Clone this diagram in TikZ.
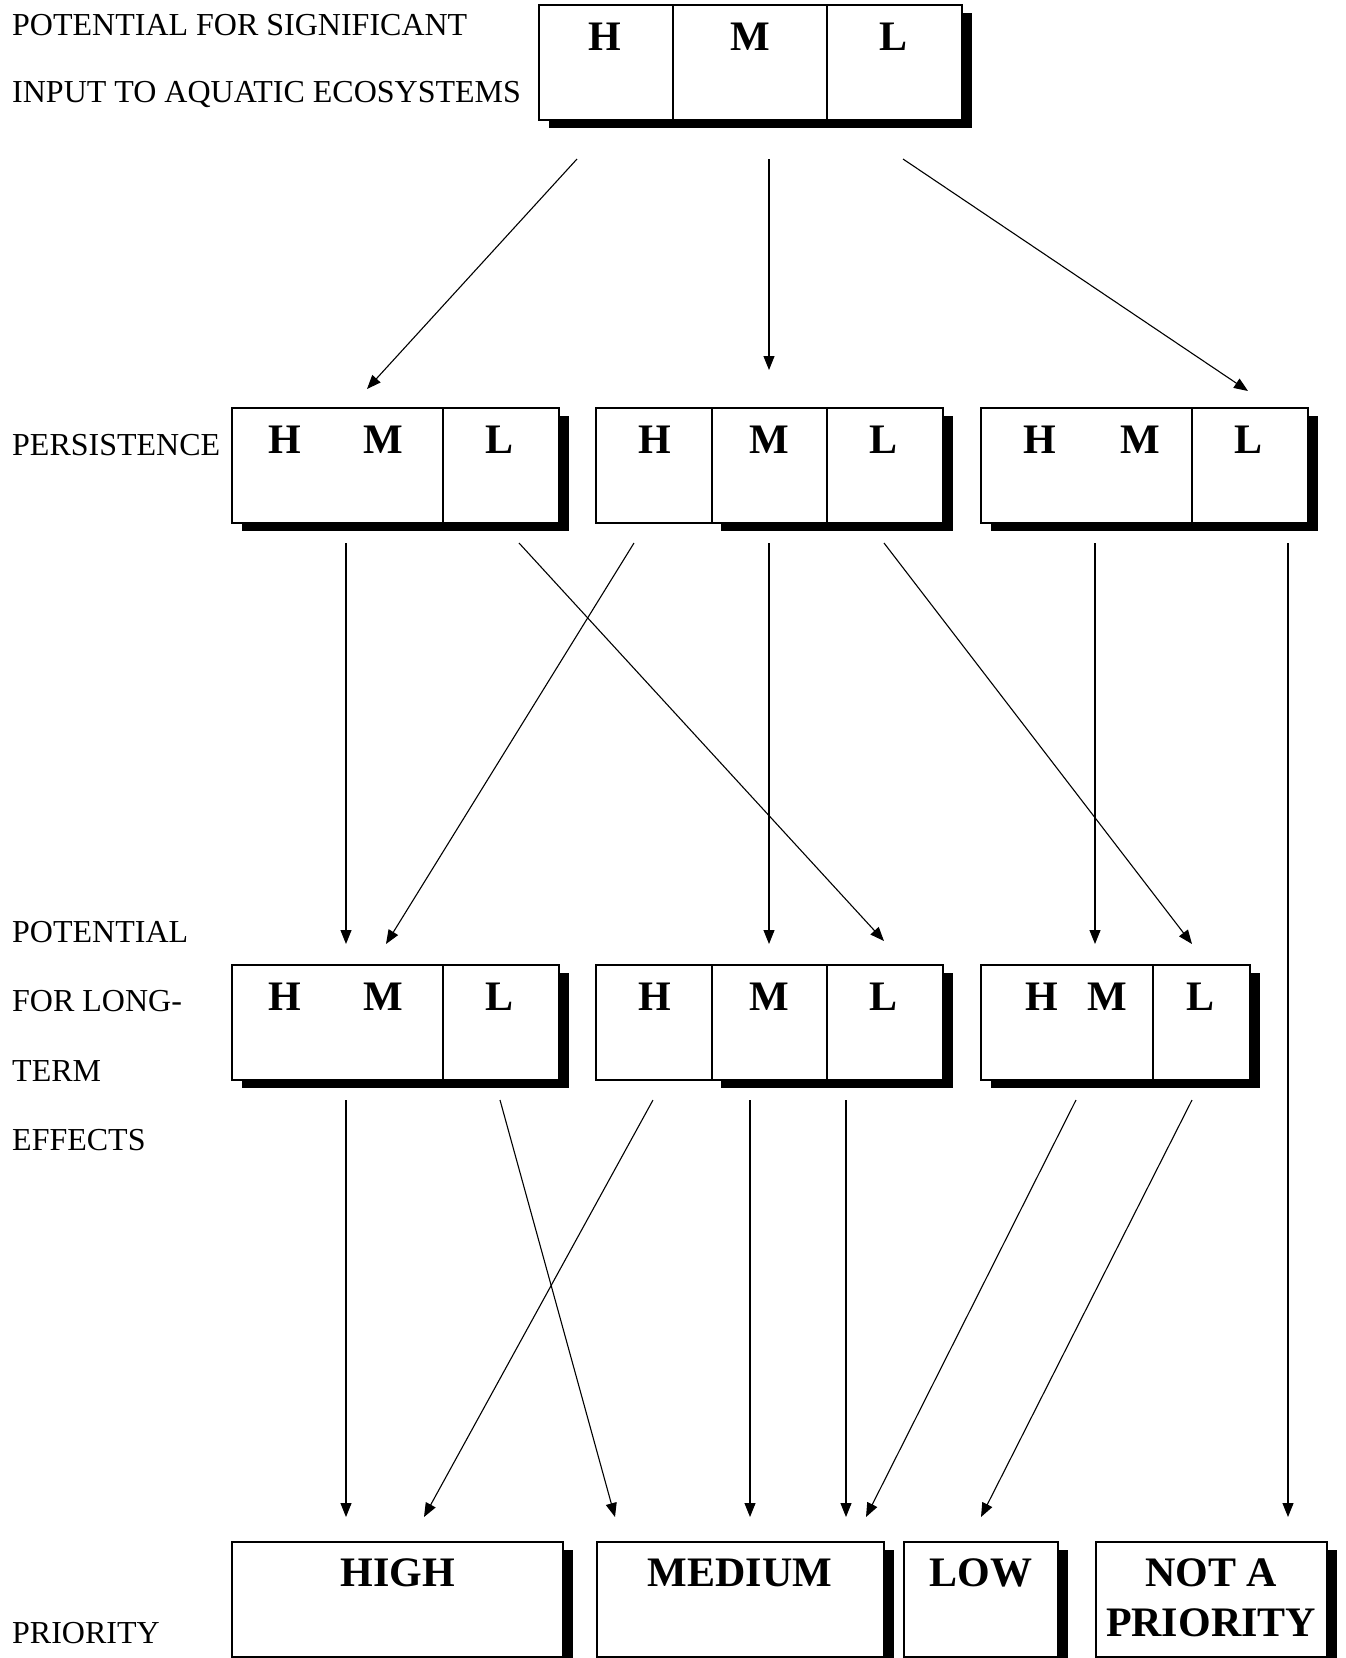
\documentclass[tikz,border=0pt]{standalone}
\usepackage{fontspec}
\setmainfont{Liberation Serif}
\usetikzlibrary{arrows.meta}
\begin{document}
\begin{tikzpicture}[x=1pt,y=-1pt,
  cellbox/.style={draw=black, line width=1.3pt, fill=white},
  shadowbox/.style={fill=black},
  lett/.style={anchor=base, font=\fontsize{42}{50}\selectfont\bfseries, inner sep=0pt},
  lab/.style={anchor=base west, font=\fontsize{32}{38}\selectfont, inner sep=0pt},
  arr/.style={-{Triangle[length=14pt,width=11pt]}, line width=1.1pt}]
\useasboundingbox (0,0) rectangle (1346,1658);
\clip (0,0) rectangle (1346,1658);
\fill[white] (0,0) rectangle (1346,1658);

% ---------- labels ----------
\node[lab] (lab1) at (12,35) {POTENTIAL FOR SIGNIFICANT};
\node[lab] (lab2) at (12,102) {INPUT TO AQUATIC ECOSYSTEMS};
\node[lab] (lab3) at (12,455) {PERSISTENCE};
\node[lab] (lab4) at (12,942) {POTENTIAL};
\node[lab] (lab5) at (12,1011) {FOR LONG-};
\node[lab] (lab6) at (12,1081) {TERM};
\node[lab] (lab7) at (12,1150) {EFFECTS};
\node[lab] (lab8) at (12,1643) {PRIORITY};

% ---------- top box ----------
\fill[shadowbox] (549,13) rectangle (972,128);
\draw[cellbox] (539,5) rectangle (962,120);
\draw[line width=1.3pt] (673,5) -- (673,120) (827,5) -- (827,120);
\node[lett] (tH) at (605,50) {H};
\node[lett] (tM) at (750,50) {M};
\node[lett] (tL) at (893,50) {L};

% ---------- row 2 (persistence) ----------
% box 1
\fill[shadowbox] (242,416) rectangle (569,531);
\draw[cellbox] (232,408) rectangle (559,523);
\draw[line width=1.3pt] (443,408) -- (443,523);
\node[lett] (pAH) at (285,453) {H};
\node[lett] (pAM) at (383,453) {M};
\node[lett] (pAL) at (500,453) {L};
% box 2
\fill[shadowbox] (721,416) rectangle (953,531);
\draw[cellbox] (712,408) rectangle (943,523);
\draw[line width=1.3pt] (827,408) -- (827,523);
\draw[cellbox] (596,408) rectangle (712,523);
\node[lett] (pBH) at (655,453) {H};
\node[lett] (pBM) at (769,453) {M};
\node[lett] (pBL) at (883,453) {L};
% box 3
\fill[shadowbox] (991,416) rectangle (1318,531);
\draw[cellbox] (981,408) rectangle (1308,523);
\draw[line width=1.3pt] (1192,408) -- (1192,523);
\node[lett] (pCH) at (1040,453) {H};
\node[lett] (pCM) at (1140,453) {M};
\node[lett] (pCL) at (1248,453) {L};

% ---------- row 3 (long-term effects) ----------
% box 1
\fill[shadowbox] (242,973) rectangle (569,1088);
\draw[cellbox] (232,965) rectangle (559,1080);
\draw[line width=1.3pt] (443,965) -- (443,1080);
\node[lett] (eAH) at (285,1010) {H};
\node[lett] (eAM) at (383,1010) {M};
\node[lett] (eAL) at (500,1010) {L};
% box 2
\fill[shadowbox] (721,973) rectangle (953,1088);
\draw[cellbox] (712,965) rectangle (943,1080);
\draw[line width=1.3pt] (827,965) -- (827,1080);
\draw[cellbox] (596,965) rectangle (712,1080);
\node[lett] (eBH) at (655,1010) {H};
\node[lett] (eBM) at (769,1010) {M};
\node[lett] (eBL) at (883,1010) {L};
% box 3
\fill[shadowbox] (991,973) rectangle (1260,1088);
\draw[cellbox] (981,965) rectangle (1250,1080);
\draw[line width=1.3pt] (1153,965) -- (1153,1080);
\node[lett] (eCH) at (1042,1010) {H};
\node[lett] (eCM) at (1107,1010) {M};
\node[lett] (eCL) at (1200,1010) {L};

% ---------- row 4 (priority) ----------
\fill[shadowbox] (242,1550) rectangle (573,1665);
\draw[cellbox] (232,1542) rectangle (563,1657);
\node[lett] (rHigh) at (398,1586) {HIGH};
\fill[shadowbox] (607,1550) rectangle (894,1665);
\draw[cellbox] (597,1542) rectangle (884,1657);
\node[lett] (rMed) at (740,1586) {MEDIUM};
\fill[shadowbox] (914,1550) rectangle (1068,1665);
\draw[cellbox] (904,1542) rectangle (1058,1657);
\node[lett] (rLow) at (981,1586) {LOW};
\fill[shadowbox] (1106,1550) rectangle (1337,1665);
\draw[cellbox] (1096,1542) rectangle (1327,1657);
\node[lett] (rNot1) at (1211,1586) {NOT A};
\node[lett] (rNot2) at (1211,1636) {PRIORITY};

% ---------- arrow end points ----------
\coordinate (a1s) at (577,159);  \coordinate (a1e) at (367,389);
\coordinate (a2s) at (769,159);  \coordinate (a2e) at (769,370);
\coordinate (a3s) at (903,159);  \coordinate (a3e) at (1248,391);

\coordinate (b1s) at (346,543);  \coordinate (b1e) at (346,944);
\coordinate (b2s) at (634,543);  \coordinate (b2e) at (386,944);
\coordinate (b3s) at (519,543);  \coordinate (b3e) at (884,941);
\coordinate (b4s) at (769,543);  \coordinate (b4e) at (769,944);
\coordinate (b5s) at (884,543);  \coordinate (b5e) at (1192,944);
\coordinate (b6s) at (1095,543); \coordinate (b6e) at (1095,944);
\coordinate (b7s) at (1288,543); \coordinate (b7e) at (1288,1517);

\coordinate (c1s) at (346,1100); \coordinate (c1e) at (346,1517);
\coordinate (c2s) at (653,1100); \coordinate (c2e) at (424,1517);
\coordinate (c3s) at (500,1100); \coordinate (c3e) at (615,1517);
\coordinate (c4s) at (750,1100); \coordinate (c4e) at (750,1517);
\coordinate (c5s) at (846,1100); \coordinate (c5e) at (846,1517);
\coordinate (c6s) at (1076,1100); \coordinate (c6e) at (866,1517);
\coordinate (c7s) at (1192,1100); \coordinate (c7e) at (981,1517);

% ---------- arrows ----------
\foreach \p in {a1,a2,a3,b1,b2,b3,b4,b5,b6,b7,c1,c2,c3,c4,c5,c6,c7}
  \draw[arr] (\p s) -- (\p e);
\end{tikzpicture}
\end{document}
